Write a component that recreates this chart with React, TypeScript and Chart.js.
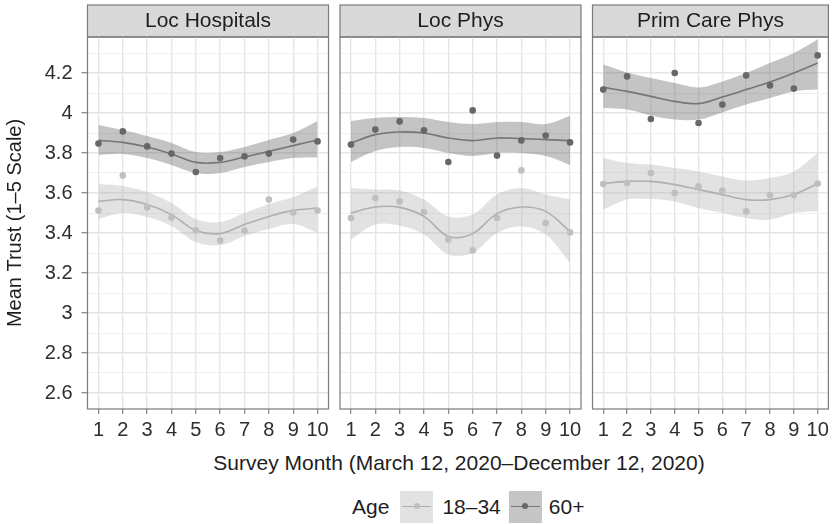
import React, { useEffect, useRef } from "react";
import { Chart, registerables } from "chart.js";

Chart.register(...registerables);

// ---------- data ----------
const months = [1, 2, 3, 4, 5, 6, 7, 8, 9, 10];
const xTickLabels = ["1", "2", "3", "4", "5", "6", "7", "8", "9", "10"];
const panelTitles = ["Loc Hospitals", "Loc Phys", "Prim Care Phys"];
const yMajorTicks = [2.6, 2.8, 3, 3.2, 3.4, 3.6, 3.8, 4, 4.2];
const yTickLabels = ["2.6", "2.8", "3", "3.2", "3.4", "3.6", "3.8", "4", "4.2"];
const yMinorTicks = [2.7, 2.9, 3.1, 3.3, 3.5, 3.7, 3.9, 4.1, 4.3];
const ageLabels = ["18–34", "60+"];
const yTitle = "Mean Trust (1–5 Scale)";
const xTitle = "Survey Month (March 12, 2020–December 12, 2020)";
const legendTitle = "Age";

// Loc Hospitals
const hosp18Points = [3.512, 3.688, 3.528, 3.478, 3.413, 3.362, 3.412, 3.567, 3.503, 3.512];
const hosp18Fit = [3.558, 3.567, 3.542, 3.492, 3.412, 3.397, 3.442, 3.483, 3.513, 3.525];
const hosp18Upper = [3.645, 3.635, 3.605, 3.55, 3.47, 3.455, 3.5, 3.545, 3.58, 3.633];
const hosp18Lower = [3.47, 3.5, 3.48, 3.435, 3.355, 3.34, 3.385, 3.42, 3.445, 3.4];
const hosp60Points = [3.847, 3.908, 3.833, 3.797, 3.705, 3.775, 3.783, 3.797, 3.867, 3.858];
const hosp60Fit = [3.863, 3.853, 3.83, 3.795, 3.753, 3.753, 3.78, 3.808, 3.837, 3.865];
const hosp60Upper = [3.94, 3.915, 3.885, 3.85, 3.805, 3.805, 3.83, 3.865, 3.9, 3.96];
const hosp60Lower = [3.79, 3.795, 3.775, 3.74, 3.7, 3.7, 3.73, 3.755, 3.775, 3.778];

// Loc Phys
const phys18Points = [3.475, 3.575, 3.558, 3.505, 3.367, 3.313, 3.475, 3.713, 3.45, 3.403];
const phys18Fit = [3.5, 3.53, 3.528, 3.483, 3.383, 3.397, 3.497, 3.53, 3.508, 3.408];
const phys18Upper = [3.625, 3.617, 3.613, 3.567, 3.483, 3.492, 3.592, 3.625, 3.592, 3.567];
const phys18Lower = [3.367, 3.442, 3.437, 3.392, 3.292, 3.3, 3.4, 3.433, 3.392, 3.25];
const phys60Points = [3.842, 3.917, 3.958, 3.913, 3.755, 4.013, 3.787, 3.863, 3.887, 3.853];
const phys60Fit = [3.85, 3.892, 3.905, 3.9, 3.875, 3.862, 3.875, 3.872, 3.867, 3.862];
const phys60Upper = [3.96, 3.975, 3.98, 3.975, 3.955, 3.945, 3.955, 3.955, 3.945, 3.985];
const phys60Lower = [3.755, 3.81, 3.83, 3.825, 3.8, 3.785, 3.8, 3.8, 3.785, 3.74];

// Prim Care Phys
const prim18Points = [3.645, 3.65, 3.7, 3.6, 3.633, 3.612, 3.508, 3.59, 3.59, 3.647];
const prim18Fit = [3.647, 3.658, 3.658, 3.642, 3.617, 3.592, 3.567, 3.567, 3.592, 3.647];
const prim18Upper = [3.775, 3.75, 3.742, 3.725, 3.708, 3.683, 3.663, 3.675, 3.708, 3.8];
const prim18Lower = [3.517, 3.567, 3.57, 3.558, 3.525, 3.5, 3.475, 3.467, 3.5, 3.51];
const prim60Points = [4.117, 4.183, 3.97, 4.2, 3.95, 4.042, 4.188, 4.138, 4.122, 4.288];
const prim60Fit = [4.128, 4.108, 4.083, 4.058, 4.047, 4.08, 4.117, 4.155, 4.2, 4.25];
const prim60Upper = [4.242, 4.203, 4.175, 4.15, 4.128, 4.158, 4.2, 4.25, 4.3, 4.367];
const prim60Lower = [4.025, 4.017, 3.987, 3.967, 3.967, 4.003, 4.042, 4.075, 4.108, 4.117];

// ---------- styles ----------
const FONT = '"Liberation Sans", Arial, Helvetica, sans-serif';
const TEXT = "#1e1e1e";
const TICK_TEXT = "#2e2e2e";
const AXIS_LINE = "#7a7a7a";
const YOUNG = { point: "#bfbfbf", line: "#b0b0b0", band: "rgba(175,175,175,0.36)", key: "#e2e2e2" };
const OLD = { point: "#676767", line: "#767676", band: "rgba(100,100,100,0.38)", key: "#c5c5c5" };

type Series = { points: number[]; fit: number[]; upper: number[]; lower: number[] };
type PanelDef = {
  title: string;
  left: number;
  width: number;
  padLeft: number;
  padRight: number;
  showY: boolean;
  young: Series;
  old: Series;
};

const CANVAS_H = 450;

const panels: PanelDef[] = [
  {
    title: panelTitles[0], left: 0, width: 334, padLeft: 0, padRight: 5.5, showY: true,
    young: { points: hosp18Points, fit: hosp18Fit, upper: hosp18Upper, lower: hosp18Lower },
    old: { points: hosp60Points, fit: hosp60Fit, upper: hosp60Upper, lower: hosp60Lower },
  },
  {
    title: panelTitles[1], left: 334, width: 252, padLeft: 6, padRight: 5, showY: false,
    young: { points: phys18Points, fit: phys18Fit, upper: phys18Upper, lower: phys18Lower },
    old: { points: phys60Points, fit: phys60Fit, upper: phys60Upper, lower: phys60Lower },
  },
  {
    title: panelTitles[2], left: 586, width: 247, padLeft: 6.5, padRight: 2, showY: false,
    young: { points: prim18Points, fit: prim18Fit, upper: prim18Upper, lower: prim18Lower },
    old: { points: prim60Points, fit: prim60Fit, upper: prim60Upper, lower: prim60Lower },
  },
];

const yAllTicks = [...yMajorTicks, ...yMinorTicks].sort((a, b) => a - b);
const majorIndex = (v: number) => yMajorTicks.findIndex((t) => Math.abs(t - v) < 1e-6);

const panelFrame = {
  id: "panelFrame",
  beforeDraw(chart: any) {
    const { ctx, chartArea } = chart;
    const top = 5;
    ctx.save();
    ctx.fillStyle = "#d9d9d9";
    ctx.fillRect(chartArea.left, top, chartArea.right - chartArea.left, chartArea.top - top);
    ctx.strokeStyle = AXIS_LINE;
    ctx.lineWidth = 1.2;
    ctx.strokeRect(chartArea.left, top, chartArea.right - chartArea.left, chartArea.top - top);
    ctx.restore();
  },
  afterDraw(chart: any) {
    const { ctx, chartArea } = chart;
    ctx.save();
    ctx.strokeStyle = AXIS_LINE;
    ctx.lineWidth = 1.2;
    ctx.strokeRect(chartArea.left, chartArea.top, chartArea.right - chartArea.left, chartArea.bottom - chartArea.top);
    ctx.restore();
  },
};

function buildConfig(p: PanelDef): any {
  const pts = (arr: number[]) => months.map((m, i) => ({ x: m, y: arr[i] }));
  const datasets: any[] = [];
  const groups: [Series, typeof YOUNG][] = [
    [p.young, YOUNG],
    [p.old, OLD],
  ];
  for (const [s, c] of groups) {
    datasets.push({
      data: pts(s.upper), borderColor: "rgba(0,0,0,0)", borderWidth: 0, pointRadius: 0,
      fill: "+1", backgroundColor: c.band, tension: 0.35, order: 10,
    });
    datasets.push({
      data: pts(s.lower), borderColor: "rgba(0,0,0,0)", borderWidth: 0, pointRadius: 0,
      fill: false, tension: 0.35, order: 10,
    });
    datasets.push({
      data: pts(s.fit), borderColor: c.line, borderWidth: 1.6, pointRadius: 0,
      fill: false, tension: 0.35, order: 5,
    });
    datasets.push({
      data: pts(s.points), showLine: false, pointRadius: 3.3, pointBorderWidth: 0,
      pointBackgroundColor: c.point, pointBorderColor: c.point, order: 1,
    });
  }

  return {
    type: "line",
    data: { datasets },
    plugins: [panelFrame],
    options: {
      responsive: false,
      animation: false,
      events: [],
      layout: { padding: { left: p.padLeft, right: p.padRight, top: 5, bottom: 0 } },
      plugins: {
        legend: { display: false },
        tooltip: { enabled: false },
        title: {
          display: true,
          text: p.title,
          fullSize: false,
          color: TEXT,
          font: { family: FONT, size: 21, weight: "normal", lineHeight: 1.2 },
          padding: { top: 3.4, bottom: 3.4 },
        },
      },
      scales: {
        x: {
          type: "linear",
          min: 0.55,
          max: 10.45,
          afterBuildTicks: (s: any) => {
            s.ticks = months.map((v) => ({ value: v }));
          },
          afterFit: (s: any) => {
            s.height = 41;
          },
          border: { display: false },
          grid: { color: "#e6e6e6", lineWidth: 1.4, tickLength: 5, tickColor: AXIS_LINE, tickWidth: 1.1 },
          ticks: {
            autoSkip: false,
            maxRotation: 0,
            padding: 4,
            color: TICK_TEXT,
            font: { family: FONT, size: 20 },
            callback: (_v: any, i: number) => xTickLabels[i],
          },
        },
        y: {
          type: "linear",
          min: 2.52,
          max: 4.38,
          afterBuildTicks: (s: any) => {
            s.ticks = yAllTicks.map((v) => ({ value: v }));
          },
          afterFit: (s: any) => {
            s.width = p.showY ? 87.5 : 0;
          },
          border: { display: false },
          grid: {
            color: (ctx: any) => (ctx.tick && majorIndex(ctx.tick.value) >= 0 ? "#e6e6e6" : "#eeeeee"),
            lineWidth: (ctx: any) => (ctx.tick && majorIndex(ctx.tick.value) >= 0 ? 1.4 : 0.9),
            drawTicks: p.showY,
            tickLength: 6,
            tickWidth: 1.1,
            tickColor: (ctx: any) => (ctx.tick && majorIndex(ctx.tick.value) >= 0 ? AXIS_LINE : "rgba(0,0,0,0)"),
          },
          ticks: {
            display: p.showY,
            autoSkip: false,
            padding: 9,
            color: TICK_TEXT,
            font: { family: FONT, size: 20 },
            callback: (v: any) => {
              const k = majorIndex(Number(v));
              return k >= 0 ? yTickLabels[k] : "";
            },
          },
          title: {
            display: p.showY,
            text: yTitle,
            color: TEXT,
            font: { family: FONT, size: 20, lineHeight: 1.2 },
            padding: { top: 3, bottom: 0 },
          },
        },
      },
    },
  };
}

function Panel({ p }: { p: PanelDef }) {
  const ref = useRef<HTMLCanvasElement | null>(null);
  useEffect(() => {
    if (!ref.current) return;
    const chart = new Chart(ref.current, buildConfig(p));
    return () => chart.destroy();
  }, [p]);
  return (
    <canvas
      ref={ref}
      width={p.width}
      height={CANVAS_H}
      style={{ position: "absolute", left: p.left, top: 0, width: p.width, height: CANVAS_H }}
    />
  );
}

function LegendKey({ c }: { c: typeof YOUNG }) {
  return (
    <div style={{ position: "relative", width: 33, height: 32, background: c.key }}>
      <div style={{ position: "absolute", left: 2, right: 2, top: 14.5, height: 1.8, background: c.line }} />
      <div
        style={{
          position: "absolute", left: 13.5, top: 12.4, width: 6, height: 6,
          borderRadius: 3, background: c.point,
        }}
      />
    </div>
  );
}

export default function App() {
  const textStyle: React.CSSProperties = { fontFamily: FONT, fontSize: 21, lineHeight: "24px", color: TEXT, whiteSpace: "nowrap" };
  return (
    <div style={{ position: "absolute", left: 0, top: 0, width: 833, height: 524, background: "#fff", overflow: "hidden" }}>
      {panels.map((p) => (
        <Panel key={p.title} p={p} />
      ))}
      <div style={{ ...textStyle, position: "absolute", left: 87, width: 744, top: 451, textAlign: "center" }}>{xTitle}</div>
      <div style={{ position: "absolute", left: 352, top: 491, height: 32, display: "flex", alignItems: "center" }}>
        <span style={{ ...textStyle, marginRight: 11 }}>{legendTitle}</span>
        <LegendKey c={YOUNG} />
        <span style={{ ...textStyle, marginLeft: 9, marginRight: 8 }}>{ageLabels[0]}</span>
        <LegendKey c={OLD} />
        <span style={{ ...textStyle, marginLeft: 7 }}>{ageLabels[1]}</span>
      </div>
    </div>
  );
}
